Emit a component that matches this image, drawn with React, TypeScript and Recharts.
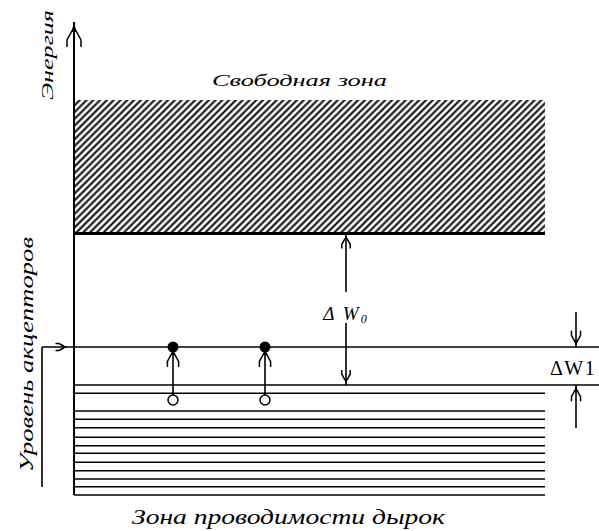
import { ComposedChart, XAxis, YAxis, ReferenceArea, ReferenceLine, ReferenceDot, Scatter } from "recharts";

// energy in arbitrary units, 0 = bottom of the valence band
const ENERGY_MAX = 47.3;
const X_MAX = 52.5;
const BAND_RIGHT = 47.1;

const VALENCE_LEVELS = [0, 0.83, 1.6, 2.43, 3.27, 4.17, 4.93, 5.77, 6.73, 7.57, 8.4, 10.17, 11.0];
const VALENCE_TOP = 11.0;
const ACCEPTOR_LEVEL = 14.8;
const CONDUCTION_BOTTOM = 26.15;
const CONDUCTION_TOP = 39.5;

const ELECTRONS = [
  { x: 9.9, e: 14.8 },
  { x: 19.1, e: 14.8 },
];
const HOLES = [
  { x: 9.9, e: 9.5 },
  { x: 19.1, e: 9.5 },
];

// ΔW0 marker: x, and the gap in the shaft where the label sits
const GAP_X = 27.2;
const GAP_BREAK = [20.3, 17.2];
// ΔW1 marker: x and outer ends of both arrows
const DW1_X = 50.2;
const DW1_ENDS = [18.3, 6.7];
// bracket of the acceptor level label
const BRACKET_X = -3.2;
const BRACKET_BOTTOM = 0.8;
const BRACKET_ARROW_X = -0.6;

const LABEL_ENERGY = "Энергия";
const LABEL_FREE = "Свободная зона";
const LABEL_ACCEPTOR = "Уровень акцепторов";
const LABEL_HOLES = "Зона проводимости дырок";

const FONT = "'Liberation Serif', 'DejaVu Serif', serif";

// arrow head, tip at the dot, body below it (angle 0 = pointing up)
const arrowHead = (angle: number, scale: number) => (p: any) => (
  <g transform={`translate(${p.cx},${p.cy}) rotate(${angle}) scale(${scale})`}>
    <path d="M0,0 L-2.6,10 L2.6,10 Z" fill="#000" />
    <path
      d="M-1.5,8 L-7,18 L-7,25 M1.5,8 L7,18 L7,25"
      fill="none"
      stroke="#000"
      strokeWidth={1.5}
      vectorEffect="non-scaling-stroke"
    />
  </g>
);

const textMark =
  (text: string, size: number, length: number, angle = 0) =>
  (p: any) => (
    <text
      x={p.cx}
      y={p.cy}
      transform={angle ? `rotate(${angle} ${p.cx} ${p.cy})` : undefined}
      textAnchor="middle"
      fontFamily={FONT}
      fontStyle="italic"
      fontSize={size}
      textLength={length}
      lengthAdjust="spacingAndGlyphs"
      fill="#000"
    >
      {text}
    </text>
  );

const electronDot = (p: any) => <circle cx={p.cx} cy={p.cy} r={5.5} fill="#000" />;
const holeDot = (p: any) => <circle cx={p.cx} cy={p.cy} r={5} fill="#fff" stroke="#000" strokeWidth={1.5} />;

export default function App() {
  return (
    <div style={{ position: "absolute", left: 0, top: 0, width: 599, height: 531, background: "#fff" }}>
      <ComposedChart width={599} height={531} margin={{ top: 22, right: 0, bottom: 36, left: 0 }}>
        <defs>
          <pattern id="hatch" patternUnits="userSpaceOnUse" width="4.8" height="4.8" patternTransform="rotate(45)">
            <line x1="2.4" y1="0" x2="2.4" y2="4.8" stroke="#000" strokeWidth="2" />
          </pattern>
        </defs>
        <XAxis type="number" dataKey="x" domain={[0, X_MAX]} allowDataOverflow hide />
        <YAxis
          type="number"
          dataKey="e"
          domain={[0, ENERGY_MAX]}
          allowDataOverflow
          width={74}
          tick={false}
          tickLine={false}
          axisLine={{ stroke: "#000", strokeWidth: 2 }}
        />

        {/* conduction (free) band */}
        <ReferenceArea
          x1={0}
          x2={BAND_RIGHT}
          y1={CONDUCTION_BOTTOM + 0.15}
          y2={CONDUCTION_TOP}
          fill="url(#hatch)"
          fillOpacity={1}
          stroke="none"
          ifOverflow="visible"
        />
        <ReferenceLine
          segment={[{ x: 0, y: CONDUCTION_BOTTOM }, { x: BAND_RIGHT, y: CONDUCTION_BOTTOM }]}
          stroke="#000"
          strokeWidth={3}
          ifOverflow="visible"
        />

        {/* valence band */}
        {VALENCE_LEVELS.map((v) => (
          <ReferenceLine
            key={v}
            segment={[{ x: 0, y: v }, { x: v === VALENCE_TOP ? X_MAX : BAND_RIGHT, y: v }]}
            stroke="#000"
            strokeWidth={1.6}
            ifOverflow="visible"
          />
        ))}

        {/* acceptor level with bracket */}
        <ReferenceLine
          segment={[{ x: BRACKET_X, y: ACCEPTOR_LEVEL }, { x: X_MAX, y: ACCEPTOR_LEVEL }]}
          stroke="#000"
          strokeWidth={1.6}
          ifOverflow="visible"
        />
        <ReferenceLine
          segment={[{ x: BRACKET_X, y: ACCEPTOR_LEVEL }, { x: BRACKET_X, y: BRACKET_BOTTOM }]}
          stroke="#000"
          strokeWidth={1.6}
          ifOverflow="visible"
        />
        <ReferenceDot x={BRACKET_ARROW_X} y={ACCEPTOR_LEVEL} ifOverflow="visible" shape={arrowHead(90, 0.5)} />

        {/* energy axis arrow */}
        <ReferenceDot x={0} y={ENERGY_MAX} ifOverflow="visible" shape={arrowHead(0, 1)} />

        {/* electron transitions: hole -> acceptor */}
        {ELECTRONS.map((el, i) => (
          <ReferenceLine
            key={"s" + i}
            segment={[{ x: HOLES[i].x, y: HOLES[i].e }, { x: el.x, y: el.e }]}
            stroke="#000"
            strokeWidth={1.6}
            ifOverflow="visible"
          />
        ))}
        {ELECTRONS.map((el, i) => (
          <ReferenceDot key={"a" + i} x={el.x} y={el.e} ifOverflow="visible" shape={arrowHead(0, 0.8)} />
        ))}

        {/* ΔW0 */}
        <ReferenceLine
          segment={[{ x: GAP_X, y: CONDUCTION_BOTTOM }, { x: GAP_X, y: GAP_BREAK[0] }]}
          stroke="#000"
          strokeWidth={1.6}
          ifOverflow="visible"
        />
        <ReferenceLine
          segment={[{ x: GAP_X, y: GAP_BREAK[1] }, { x: GAP_X, y: VALENCE_TOP }]}
          stroke="#000"
          strokeWidth={1.6}
          ifOverflow="visible"
        />
        <ReferenceDot x={GAP_X} y={CONDUCTION_BOTTOM} ifOverflow="visible" shape={arrowHead(0, 0.6)} />
        <ReferenceDot x={GAP_X} y={VALENCE_TOP} ifOverflow="visible" shape={arrowHead(180, 0.6)} />
        <ReferenceDot
          x={GAP_X}
          y={17.5}
          ifOverflow="visible"
          shape={(p: any) => (
            <text
              x={p.cx}
              y={p.cy}
              textAnchor="middle"
              fontFamily={FONT}
              fontStyle="italic"
              fontSize={19}
              letterSpacing={2}
            >
              {"Δ W"}
              <tspan fontSize={12} dy={3}>
                0
              </tspan>
            </text>
          )}
        />

        {/* ΔW1 */}
        <ReferenceLine
          segment={[{ x: DW1_X, y: DW1_ENDS[0] }, { x: DW1_X, y: ACCEPTOR_LEVEL }]}
          stroke="#000"
          strokeWidth={1.6}
          ifOverflow="visible"
        />
        <ReferenceLine
          segment={[{ x: DW1_X, y: VALENCE_TOP }, { x: DW1_X, y: DW1_ENDS[1] }]}
          stroke="#000"
          strokeWidth={1.6}
          ifOverflow="visible"
        />
        <ReferenceDot x={DW1_X} y={ACCEPTOR_LEVEL} ifOverflow="visible" shape={arrowHead(180, 0.65)} />
        <ReferenceDot x={DW1_X} y={VALENCE_TOP} ifOverflow="visible" shape={arrowHead(0, 0.65)} />
        <ReferenceDot
          x={47.6}
          y={12.0}
          ifOverflow="visible"
          shape={(p: any) => (
            <text x={p.cx} y={p.cy} fontFamily={FONT} fontSize={20} letterSpacing={1.5}>
              ΔW1
            </text>
          )}
        />

        {/* electrons and holes */}
        <Scatter data={HOLES} dataKey="e" shape={holeDot} isAnimationActive={false} />
        <Scatter data={ELECTRONS} dataKey="e" shape={electronDot} isAnimationActive={false} />

        {/* labels */}
        <ReferenceDot x={-2.1} y={44.0} ifOverflow="visible" shape={textMark(LABEL_ENERGY, 16, 90, -90)} />
        <ReferenceDot x={22.55} y={40.9} ifOverflow="visible" shape={textMark(LABEL_FREE, 17, 175)} />
        <ReferenceDot x={-4.1} y={14.05} ifOverflow="visible" shape={textMark(LABEL_ACCEPTOR, 18, 235, -90)} />
        <ReferenceDot x={21.45} y={-2.9} ifOverflow="visible" shape={textMark(LABEL_HOLES, 20, 313)} />
      </ComposedChart>
    </div>
  );
}
